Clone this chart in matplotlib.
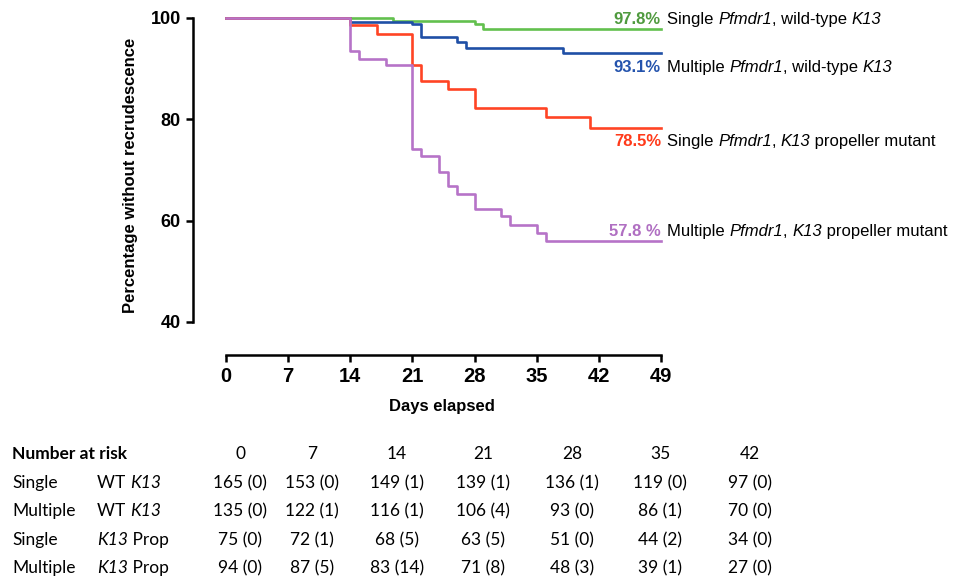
import matplotlib
matplotlib.use('Agg')
import matplotlib.pyplot as plt
from matplotlib.transforms import IdentityTransform

plt.rcParams['font.family'] = ['Liberation Sans', 'DejaVu Sans']


# Kaplan-Meier steps
green_t = [0, 18.8, 28, 29, 49]
green_s = [100, 99.5, 98.8, 97.8, 97.8]
blue_t = [0, 14, 21, 22, 26, 27, 38, 49]
blue_s = [100, 99.2, 98.8, 96.2, 95.3, 94.0, 93.0, 93.0]
red_t = [0, 14, 17, 21, 22, 25, 28, 36, 41, 49]
red_s = [100, 98.7, 96.9, 90.7, 87.5, 85.9, 82.3, 80.4, 78.2, 78.2]
purple_t = [0, 14, 15, 18, 21, 22, 24, 25, 26, 28, 31, 32, 35, 36, 49]
purple_s = [100, 93.5, 92.0, 90.7, 74.2, 72.8, 69.7, 66.9, 65.3, 62.4, 60.9, 59.2, 57.6, 56.0, 56.0]

pct_labels = ['97.8%', '93.1%', '78.5%', '57.8 %']
# (text, italic?) pieces
desc_labels = [
    [('Single ', False), ('Pfmdr1', True), (', wild-type ', False), ('K13', True)],
    [('Multiple ', False), ('Pfmdr1', True), (', wild-type ', False), ('K13', True)],
    [('Single ', False), ('Pfmdr1', True), (', ', False), ('K13', True), (' propeller mutant', False)],
    [('Multiple ', False), ('Pfmdr1', True), (', ', False), ('K13', True), (' propeller mutant', False)],
]

x_ticks = [0, 7, 14, 21, 28, 35, 42, 49]
y_ticks = [40, 60, 80, 100]

# number at risk table
risk_days = ['0', '7', '14', '21', '28', '35', '42']
risk_group = ['Single', 'Multiple', 'Single', 'Multiple']
risk_single = ['165 (0)', '153 (0)', '149 (1)', '139 (1)', '136 (1)', '119 (0)', '97 (0)']
risk_multi = ['135 (0)', '122 (1)', '116 (1)', '106 (4)', '93 (0)', '86 (1)', '70 (0)']
risk_single_prop = ['75 (0)', '72 (1)', '68 (5)', '63 (5)', '51 (0)', '44 (2)', '34 (0)']
risk_multi_prop = ['94 (0)', '87 (5)', '83 (14)', '71 (8)', '48 (3)', '39 (1)', '27 (0)']

W, H = 969, 580
fig = plt.figure(figsize=(W / 100, H / 100), dpi=100)
ax = fig.add_axes([226 / W, 1 - 322 / H, 435 / W, 304 / H])
renderer = fig.canvas.get_renderer()


def rich_text(x, y, pieces, **kw):
    # draw pieces one after another, x/y in figure pixels
    for txt, ital in pieces:
        t = fig.text(x, y, txt, transform=IdentityTransform(),
                     style='italic' if ital else 'normal', **kw)
        x = t.get_window_extent(renderer).x1


curves = [(green_t, green_s, '#62c04e', '#4f9a3e'),
          (blue_t, blue_s, '#1f4fa6', '#2453ad'),
          (red_t, red_s, '#ff4424', '#ff3a1a'),
          (purple_t, purple_s, '#b673c8', '#b06fc2')]
label_y = [99.7, 90.2, 75.6, 57.8]

ax.set_xlim(0, 49)
ax.set_ylim(40, 100)

for (t, s, lc, tc), py, pl, dl in zip(curves, label_y, pct_labels, desc_labels):
    ax.step(t, s, where='post', color=lc, lw=1.9, clip_on=False)
    ax.text(49, py, pl, color=tc, fontsize=12, fontweight='bold',
            ha='right', va='center')
    px, pyy = ax.transData.transform((49, py))
    rich_text(px + 6, pyy, dl, fontsize=12, va='center')

ax.set_xticks(x_ticks)
ax.set_yticks(y_ticks)
ax.spines['top'].set_visible(False)
ax.spines['right'].set_visible(False)
ax.spines['left'].set_position(('outward', 24))
ax.spines['bottom'].set_position(('outward', 24))
for sp in ['left', 'bottom']:
    ax.spines[sp].set_linewidth(1.8)
ax.tick_params(width=1.8, length=5)
for lab in ax.get_xticklabels():
    lab.set_fontsize(14.5)
    lab.set_fontweight('bold')
for lab in ax.get_yticklabels():
    lab.set_fontsize(13)
    lab.set_fontweight('bold')
ax.set_facecolor('none')

fig.text(131 / W, 1 - 175 / H, 'Percentage without recrudescence', rotation=90,
         fontsize=12, fontweight='bold', ha='center', va='center')
fig.text(442 / W, 1 - 407 / H, 'Days elapsed', fontsize=12, fontweight='bold',
         ha='center', va='center')


# Number at risk
tf = ['Lato', 'DejaVu Sans']
fs = 12.5
col_x = [240, 312, 397, 483, 572, 660, 750]
row_y = [483, 511, 540, 568]

fig.text(12 / W, 1 - 454 / H, 'Number at risk', family=tf, fontsize=fs,
         fontweight='bold', va='center')
for cx, d in zip(col_x, risk_days):
    fig.text(cx / W, 1 - 454 / H, d, family=tf, fontsize=fs, ha='center', va='center')

rows = [risk_single, risk_multi, risk_single_prop, risk_multi_prop]
for i, (ry, grp, vals) in enumerate(zip(row_y, risk_group, rows)):
    fig.text(12 / W, 1 - ry / H, grp, family=tf, fontsize=fs, va='center')
    if i < 2:
        rich_text(97, H - ry, [('WT ', False), ('K13', True)], family=tf,
                  fontsize=fs, va='center')
    else:
        rich_text(97, H - ry, [('K13', True), (' Prop', False)], family=tf,
                  fontsize=fs, va='center')
    for cx, v in zip(col_x, vals):
        fig.text(cx / W, 1 - ry / H, v, family=tf, fontsize=fs, ha='center', va='center')

fig.savefig('out.png', dpi=100)
